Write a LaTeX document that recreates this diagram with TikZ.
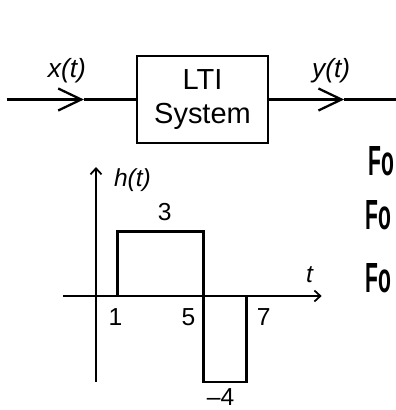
\documentclass[tikz,border=0pt]{standalone}
\usepackage{fontspec}
\setmainfont{Liberation Sans}
\usepackage{graphicx}
\usepackage{tikz}
\usetikzlibrary{arrows.meta, positioning}
\tikzset{
  sysbox/.style = {rectangle, draw, line width=1.3pt, minimum width=2.62cm,
                   minimum height=1.74cm, align=center,
                   font=\fontsize{16.5}{19.5}\selectfont},
  sig/.style    = {line width=1.3pt},
  arr/.style    = {sig, -{Straight Barb[length=0.46cm, width=0.44cm, line width=1.3pt]}},
  axis/.style   = {line width=1.1pt, -{Straight Barb[length=0.12cm, width=0.22cm, line width=1pt]}},
  pulse/.style  = {line width=1.3pt},
  lbl/.style    = {font=\fontsize{14}{16}\selectfont},
  hand/.style   = {anchor=west, inner sep=0pt, font=\fontsize{24}{26}\selectfont\bfseries},
}
\newcommand{\handtext}[1]{\scalebox{0.5}[1]{#1}}
\begin{document}
\begin{tikzpicture}[x=0.02cm, y=0.02cm]

  \clip (0,0) rectangle (396,410);

  \node[sysbox] (sys) at (202.5,310.5) {LTI\\System};
  \coordinate[left=2.58cm of sys.west]  (in);
  \coordinate[left=1.04cm of sys.west]  (ina);
  \coordinate[right=1.5cm of sys.east]  (outa);
  \coordinate[right=2.7cm of sys.east]  (out);

  \draw[arr] (in)--(ina);
  \draw[sig] (ina)--(sys.west);
  \draw[arr] (sys.east)--(outa);
  \draw[sig] (outa)--(out);

  \node[lbl, font=\fontsize{15}{17}\selectfont, above=0.2cm of ina, xshift=-0.34cm]  (xl) {\textit{x(t)}};
  \node[lbl, font=\fontsize{15}{17}\selectfont, above=0.2cm of outa, xshift=-0.26cm] (yl) {\textit{y(t)}};

  \begin{scope}[shift={(96,114)}, x=0.43cm, y=0.43cm]
    \coordinate (o)  at (0,0);
    \coordinate (t0) at (-1.53,0);
    \coordinate (t1) at (10.5,0);
    \coordinate (h0) at (0,-4);
    \coordinate (h1) at (0,6);

    \draw[axis] (t0)--(t1);
    \draw[axis] (h0)--(h1);
    \draw[pulse] (1,0)--(1,3)--(5,3)--(5,-4)--(7,-4)--(7,0);

    \node[lbl, anchor=west] (hl) at (0.55,5.4) {\textit{h(t)}};
    \node[lbl] (tl)  at (9.95,1.0)  {\textit{t}};
    \node[lbl] (a3)  at (3.2,3.9)   {3};
    \node[lbl] (a1)  at (0.9,-1.0)  {1};
    \node[lbl] (a5)  at (4.3,-1.0)  {5};
    \node[lbl] (a7)  at (7.8,-1.0)  {7};
    \node[lbl] (am4) at (5.8,-4.72) {\textendash 4};
  \end{scope}

  \node[hand] (f1) at (368,249) {\handtext{Fo}};
  \node[hand] (f2) at (365,195) {\handtext{Fo}};
  \node[hand] (f3) at (365,132) {\handtext{Fo}};

\end{tikzpicture}
\end{document}
